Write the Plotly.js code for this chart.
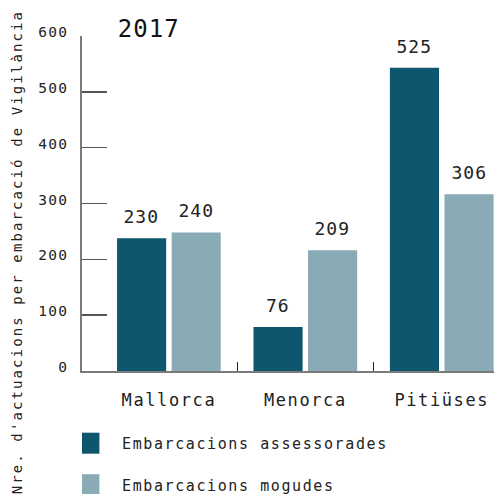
<!DOCTYPE html>
<html>
<head>
<meta charset="utf-8">
<script src="https://cdn.plot.ly/plotly-3.0.1.min.js"></script>
<style>
  html, body { margin: 0; padding: 0; background: #fff; }
  #chart { width: 494px; height: 494px; }
  .xtick text { letter-spacing: 1.6px; }
  .ytick text { letter-spacing: 1.2px; }
  .legendtext { letter-spacing: 1.6px; }
  .gtitle { letter-spacing: 1px; }
  .annotation .annotation-text { letter-spacing: 1px; }
  .annotation[data-index="0"] .annotation-text { letter-spacing: 2.1px; }
</style>
</head>
<body>
<div id="chart"></div>
<script>
// ---- data ----
const categories = ['Mallorca', 'Menorca', 'Pitiüses'];
const assessorades = [230, 76, 525];
const mogudes = [240, 209, 306];
const seriesNames = ['Embarcacions assessorades', 'Embarcacions mogudes'];
const yTickVals = [0, 100, 200, 300, 400, 500, 600];
const chartTitle = '2017';
const yTitle = "Nre. d'actuacions per embarcació de Vigilància";

// ---- style ----
const FONT = '"DejaVu Sans Mono", monospace';
const DARK = '#0e566e';
const LIGHT = '#88abb6';
const BARGAP = 0.2, GROUPGAP = 0.1;
const XRANGE = [-0.637, 2.383];

const seriesValues = [assessorades, mogudes];
const seriesColors = [DARK, LIGHT];

const traces = seriesValues.map((vals, k) => ({
  type: 'bar',
  name: seriesNames[k],
  legendgroup: 'g' + k,
  x: categories,
  y: vals,
  xaxis: 'x',
  yaxis: 'y2',
  marker: { color: seriesColors[k], line: { width: 0 } },
  hoverinfo: 'skip'
}));
// empty helper traces so the tick axes (y, x2) are drawn
traces.push({ type: 'scatter', x: [], y: [], xaxis: 'x', yaxis: 'y', showlegend: false, hoverinfo: 'skip' });
traces.push({ type: 'scatter', x: [], y: [], xaxis: 'x2', yaxis: 'y', showlegend: false, hoverinfo: 'skip' });

// value labels above bars
const slot = (1 - BARGAP) / seriesValues.length;
const annotations = [{
  text: yTitle,
  xref: 'paper', yref: 'paper',
  x: -0.158, y: 0.355,
  xanchor: 'center', yanchor: 'middle',
  textangle: -90, showarrow: false,
  font: { family: FONT, size: 14, color: '#222' }
}];
seriesValues.forEach((vals, k) => {
  const off = -(1 - BARGAP) / 2 + slot * (k + 0.5);
  vals.forEach((v, i) => {
    annotations.push({
      text: String(v),
      xref: 'x', yref: 'y2',
      x: i + off, y: v,
      xanchor: 'center', yanchor: 'bottom',
      yshift: 9, showarrow: false,
      font: { family: FONT, size: 18, color: '#222' }
    });
  });
});

const layout = {
  width: 494, height: 494,
  margin: { l: 82, r: 0, t: 36, b: 123, pad: 0, autoexpand: false },
  paper_bgcolor: '#fff', plot_bgcolor: '#fff',
  font: { family: FONT, color: '#222' },
  barmode: 'group',
  bargap: BARGAP,
  bargroupgap: GROUPGAP,
  showlegend: true,
  title: {
    text: chartTitle,
    font: { family: FONT, size: 24, color: '#111' },
    xref: 'paper', yref: 'container',
    x: 0.087, xanchor: 'left',
    y: 0.943, yanchor: 'middle'
  },
  xaxis: {
    type: 'category',
    range: XRANGE,
    showgrid: false, zeroline: false,
    showline: true, linecolor: '#7a7a7a', linewidth: 2,
    ticks: '',
    tickfont: { family: FONT, size: 17, color: '#222' },
    ticklabelstandoff: 13,
    fixedrange: true
  },
  xaxis2: {
    overlaying: 'x',
    anchor: 'y',
    type: 'linear',
    range: XRANGE,
    tickvals: [0.5, 1.5],
    ticks: 'inside', ticklen: 9, tickwidth: 1, tickcolor: '#222',
    showticklabels: false,
    showgrid: false, zeroline: false, showline: false,
    fixedrange: true
  },
  yaxis: {
    range: [0, 600],
    tickvals: yTickVals,
    ticks: 'inside', ticklen: 25, tickwidth: 1.5, tickcolor: '#555',
    showgrid: false, zeroline: false,
    showline: true, linecolor: '#7a7a7a', linewidth: 2,
    tickfont: { family: FONT, size: 14.5, color: '#222' },
    ticklabelstandoff: 9,
    ticklabelshift: -4,
    fixedrange: true
  },
  yaxis2: {
    overlaying: 'y',
    range: [0, 580],
    visible: false,
    fixedrange: true
  },
  legend: {
    x: 0, xanchor: 'left',
    y: -0.167, yanchor: 'top',
    orientation: 'v',
    tracegroupgap: 19,
    font: { family: FONT, size: 15, color: '#222' },
    bgcolor: 'rgba(0,0,0,0)'
  },
  annotations: annotations
};

Plotly.newPlot('chart', traces, layout, { displayModeBar: false, staticPlot: true }).then(gd => {
  // enlarge legend swatches
  gd.querySelectorAll('.legendpoints path').forEach(p => {
    p.setAttribute('transform', 'translate(4.5,0) scale(2.15,1.75)');
  });
});
</script>
</body>
</html>
